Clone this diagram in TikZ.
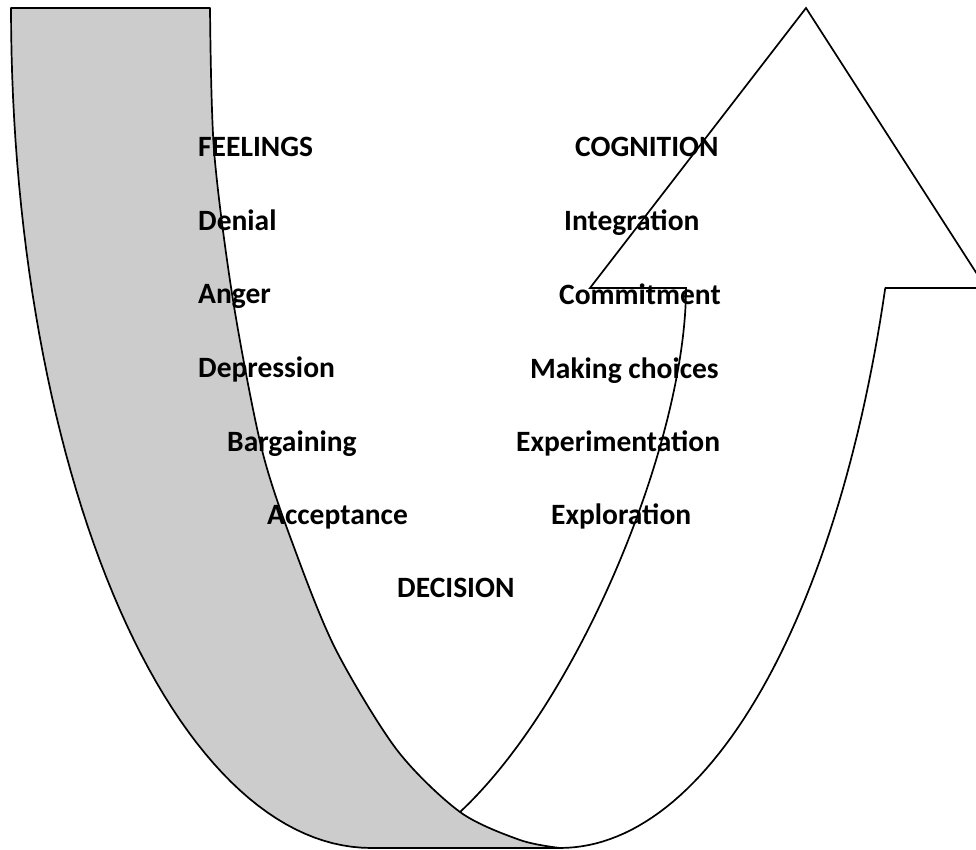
\documentclass[tikz,border=0pt]{standalone}
\usepackage{fontspec}
\setmainfont{Carlito}
\definecolor{bandgray}{RGB}{204,204,204}
\begin{document}
\begin{tikzpicture}[x=1pt,y=-1pt,
  band/.style={fill=bandgray, draw=black, line width=1.7pt, line join=round},
  outline/.style={draw=black, line width=1.7pt, line join=miter},
  lbl/.style={anchor=base west, inner sep=0pt, font=\fontsize{29.5}{34}\selectfont\bfseries}]
\useasboundingbox (0,0) rectangle (976,850);
\clip (0,0) rectangle (976,850);
% gray back band
\path[band] plot[smooth] coordinates {(210,8) (214,150) (233,300) (262,450) (295,550) (336,650) (397,750) (460,812) (520,840) (560,848)}
  -- (371,848)
  -- plot[domain=0:90, samples=60] ({371-360*cos(90-\x)},{8+840*sin(90-\x)})
  -- cycle;
% white front band with arrow head
\coordinate (join) at (460,812);
\coordinate (inner top) at (686,288);
\draw[outline] (join) .. controls (580,700) and (686,440) .. (inner top)
  -- (590,288) -- (806,8) -- (986,288) -- (885,288)
  -- plot[domain=19.47:90, samples=60] ({560+345*cos(\x)},{8+840*sin(\x)});
% labels
\node[lbl] (feelings) at (198,157) {FEELINGS};
\node[lbl] (denial) at (198,230) {Denial};
\node[lbl] (anger) at (198,303) {Anger};
\node[lbl] (depression) at (198,377) {Depression};
\node[lbl] (bargaining) at (227,451) {Bargaining};
\node[lbl] (acceptance) at (267,524) {Acceptance};
\node[lbl] (decision) at (397,597) {DECISION};
\node[lbl] (cognition) at (575,157) {COGNITION};
\node[lbl] (integration) at (564,230) {Integration};
\node[lbl] (commitment) at (559,304) {Commitment};
\node[lbl] (choices) at (530,378) {Making choices};
\node[lbl] (experimentation) at (516,451) {Experimentation};
\node[lbl] (exploration) at (551,524) {Exploration};
\end{tikzpicture}
\end{document}
